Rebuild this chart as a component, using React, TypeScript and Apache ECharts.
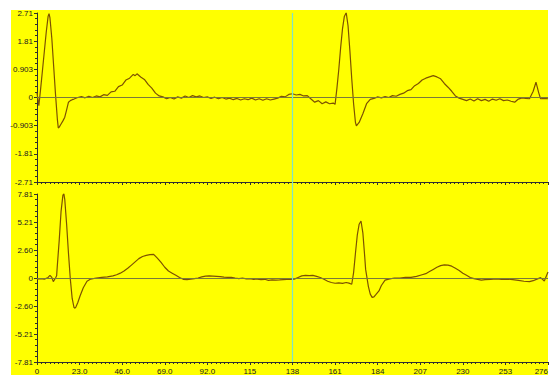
import React, { useEffect, useRef } from "react";
import * as echarts from "echarts";

// Lead 1 (top panel): [x, value]
const lead1: number[][] = [
  [0, 0.15], [1, -0.26], [2, 0.3], [3, 0.9], [4, 1.5], [5, 2.1], [6, 2.6], [6.5, 2.69], [7, 2.55],
  [8, 1.9], [9, 1.0], [10, 0.1], [11, -0.7], [11.5, -0.98], [12, -0.95], [13, -0.85], [14, -0.75],
  [15, -0.63], [16, -0.4], [17, -0.15], [18, -0.1], [19, -0.07], [20, -0.05], [22, 0.0], [24, 0.03],
  [26, -0.01], [28, 0.04], [30, 0.0], [32, 0.05], [34, 0.02], [36, 0.09], [38, 0.07], [40, 0.18],
  [42, 0.2], [44, 0.35], [46, 0.4], [48, 0.56], [50, 0.62], [52, 0.74], [53, 0.7], [54, 0.76],
  [56, 0.66], [58, 0.58], [60, 0.42], [62, 0.3], [64, 0.14], [66, 0.05], [68, 0.02], [70, -0.04],
  [72, 0.0], [74, -0.05], [76, 0.02], [78, -0.02], [80, 0.05], [82, 0.0], [84, 0.06], [86, 0.02],
  [88, 0.05], [90, 0.0], [92, 0.02], [94, -0.03], [96, 0.01], [98, -0.04], [100, 0.0], [102, -0.05],
  [104, -0.02], [106, -0.07], [108, -0.03], [110, -0.08], [112, -0.04], [114, -0.07], [116, -0.02],
  [118, -0.08], [120, -0.04], [122, -0.09], [124, -0.04], [126, -0.08], [128, -0.05], [130, -0.02],
  [132, 0.04], [134, 0.02], [136, 0.1], [138, 0.12], [140, 0.08], [142, 0.1], [144, 0.05], [146, 0.06],
  [148, -0.05], [150, -0.15], [152, -0.1], [154, -0.2], [156, -0.14], [158, -0.2], [160, -0.18],
  [161, -0.22], [162, 0.3], [163, 0.9], [164, 1.6], [165, 2.2], [166, 2.6], [167, 2.72], [168, 2.3],
  [169, 1.5], [170, 0.6], [171, -0.2], [172, -0.8], [172.5, -0.91], [174, -0.8], [176, -0.52],
  [178, -0.2], [180, -0.06], [182, -0.03], [184, 0.02], [186, -0.01], [188, 0.03], [190, 0.0],
  [192, 0.06], [194, 0.04], [196, 0.1], [198, 0.14], [200, 0.22], [202, 0.25], [204, 0.38], [206, 0.45],
  [208, 0.56], [210, 0.62], [212, 0.66], [214, 0.7], [216, 0.66], [218, 0.6], [220, 0.45], [222, 0.33],
  [224, 0.2], [226, 0.05], [228, -0.02], [230, -0.06], [232, -0.1], [234, -0.05], [236, -0.11],
  [238, -0.04], [240, -0.1], [242, -0.06], [244, -0.12], [246, -0.05], [248, -0.09], [250, -0.04],
  [252, -0.1], [254, -0.08], [256, -0.12], [258, -0.15], [260, -0.05], [262, -0.01], [264, -0.03],
  [266, -0.04], [268, 0.2], [269.5, 0.49], [271, 0.15], [272, -0.04], [274, -0.03], [276, -0.04],
];

// Lead 2 (bottom panel): [x, value]
const lead2: number[][] = [
  [0, -0.1], [2, -0.05], [4, -0.1], [6, 0.05], [7, 0.25], [8, 0.05], [8.8, -0.34], [10, 0.0],
  [10.6, 0.2], [11, 1.2], [12, 3.5], [13, 6.2], [14, 7.7], [14.5, 7.85], [15, 7.3], [16, 5.0],
  [17, 2.3], [18, -0.1], [19, -1.9], [20, -2.75], [20.5, -2.8], [21, -2.7], [22, -2.3], [23.3, -1.65],
  [25, -0.9], [27, -0.3], [29, -0.1], [32, 0.0], [35, 0.05], [38, 0.1], [41, 0.2], [43, 0.3],
  [45, 0.45], [47, 0.65], [49, 0.9], [51, 1.2], [53, 1.5], [55, 1.8], [57, 2.0], [59, 2.1],
  [61, 2.18], [63, 2.2], [65, 1.85], [67, 1.45], [69, 1.0], [71, 0.65], [73, 0.45], [75, 0.25],
  [77, 0.05], [79, -0.12], [81, -0.15], [83, -0.1], [85, -0.05], [87, 0.0], [89, 0.1], [91, 0.18],
  [93, 0.2], [95, 0.18], [97, 0.15], [99, 0.12], [101, 0.08], [103, 0.05], [105, 0.06], [107, 0.0],
  [109, -0.05], [111, 0.0], [113, -0.08], [115, -0.05], [117, -0.12], [119, -0.1], [121, -0.15],
  [123, -0.12], [125, -0.22], [127, -0.18], [129, -0.2], [131, -0.18], [133, -0.15], [135, -0.14],
  [137, -0.12], [139, -0.1], [141, 0.05], [143, 0.2], [145, 0.25], [147, 0.22], [149, 0.25],
  [151, 0.15], [153, 0.05], [155, -0.12], [157, -0.3], [159, -0.42], [161, -0.49], [163, -0.45],
  [165, -0.5], [167, -0.42], [168.5, -0.48], [170, -0.58], [171, 0.5], [172, 2.3], [173, 4.0],
  [174, 5.0], [175, 5.3], [176, 4.2], [177, 2.0], [177.5, 0.8], [179, -0.8], [180, -1.5], [181, -1.8],
  [182, -1.75], [183, -1.55], [184.7, -1.2], [186, -0.7], [188, -0.2], [190, -0.1], [193, 0.0],
  [196, 0.0], [199, 0.05], [202, 0.05], [205, 0.15], [208, 0.3], [210, 0.4], [212, 0.6], [214, 0.8],
  [216, 1.0], [218, 1.15], [220, 1.22], [222, 1.2], [224, 1.1], [226, 0.9], [228, 0.7], [230, 0.45],
  [232, 0.25], [234, 0.05], [236, -0.06], [238, -0.12], [240, -0.2], [242, -0.15], [245, -0.12],
  [248, -0.08], [251, -0.12], [254, -0.1], [257, -0.15], [260, -0.22], [263, -0.3], [266, -0.34],
  [268, -0.25], [270, -0.1], [272, 0.03], [274, -0.28], [276, 0.55],
];

const xTickLabels = ["0", "23.0", "46.0", "69.0", "92.0", "115", "138", "161", "184", "207", "230", "253", "276"];
const y1TickLabels = ["-2.71", "-1.81", "-0.903", "0", "0.903", "1.81", "2.71"];
const y2TickLabels = ["-7.81", "-5.21", "-2.60", "0", "2.60", "5.21", "7.81"];
const cursorX = 138;

const X_MAX = 276;
const X_STEP = 23;
const Y1_MAX = 2.71;
const Y2_MAX = 7.81;

export default function App() {
  const ref = useRef<HTMLDivElement>(null);
  useEffect(() => {
    if (!ref.current) return;
    const chart = echarts.init(ref.current, undefined, { renderer: "svg" });
    const axisColor = "#303030";
    const font = { fontFamily: "Liberation Sans, Arial, sans-serif", fontSize: 8, color: "#202020" };
    const iv1 = Y1_MAX / 3;
    const iv2 = Y2_MAX / 3;
    const mkY = (idx: number, iv: number, labels: string[]) => ({
      type: "value",
      gridIndex: idx,
      min: -3 * iv,
      max: 3 * iv,
      interval: iv,
      splitLine: { show: false },
      axisLine: { show: true, onZero: false, lineStyle: { color: axisColor, width: 1 } },
      axisTick: { show: true, length: 3, lineStyle: { color: axisColor } },
      minorTick: { show: true, splitNumber: 5, length: 2, lineStyle: { color: axisColor } },
      axisLabel: {
        ...font,
        margin: 4,
        showMinLabel: true,
        showMaxLabel: true,
        formatter: (v: number) => labels[Math.round(v / iv) + 3] ?? "",
      },
    });
    const mkX = (idx: number, showLabels: boolean) => ({
      type: "value",
      gridIndex: idx,
      min: 0,
      max: X_MAX,
      interval: X_STEP,
      splitLine: { show: false },
      axisLine: { show: true, onZero: false, lineStyle: { color: axisColor, width: 1 } },
      axisTick: { show: true, length: 3, lineStyle: { color: axisColor } },
      minorTick: { show: true, splitNumber: 10, length: 2, lineStyle: { color: axisColor } },
      axisLabel: {
        show: showLabels,
        ...font,
        margin: 5,
        showMinLabel: true,
        showMaxLabel: true,
        alignMaxLabel: "right",
        formatter: (v: number) => xTickLabels[Math.round(v / X_STEP)] ?? "",
      },
    });
    const zeroLine = () => ({
      silent: true,
      symbol: ["none", "none"],
      label: { show: false },
      lineStyle: { color: "#7a7a3a", width: 1, type: "solid" },
      data: [{ yAxis: 0 }],
    });
    const lineColor = "#7d5200";
    const bg = { type: "rect", id: "bg", z: -10, shape: { x: 11, y: 10, width: 537, height: 365 }, style: { fill: "#ffff00" } };
    chart.setOption({
      animation: false,
      backgroundColor: "transparent",
      graphic: [bg],
      grid: [
        { left: 37, top: 13, width: 511, height: 169, containLabel: false, outerBoundsMode: "none" },
        { left: 37, top: 194, width: 511, height: 168, containLabel: false, outerBoundsMode: "none" },
      ],
      xAxis: [mkX(0, false), mkX(1, true)],
      yAxis: [mkY(0, iv1, y1TickLabels), mkY(1, iv2, y2TickLabels)],
      series: [
        {
          type: "line",
          xAxisIndex: 0,
          yAxisIndex: 0,
          data: lead1,
          showSymbol: false,
          lineStyle: { color: lineColor, width: 1.2 },
          markLine: zeroLine(),
        },
        {
          type: "line",
          xAxisIndex: 1,
          yAxisIndex: 1,
          data: lead2,
          showSymbol: false,
          lineStyle: { color: lineColor, width: 1.2 },
          markLine: zeroLine(),
        },
      ],
    });
    const pTop = chart.convertToPixel({ xAxisIndex: 0, yAxisIndex: 0 }, [cursorX, 3 * iv1]) as number[];
    const pBot = chart.convertToPixel({ xAxisIndex: 1, yAxisIndex: 1 }, [cursorX, -3 * iv2]) as number[];
    chart.setOption({
      graphic: [
        bg,
        {
          type: "line",
          id: "cursor",
          z: 50,
          shape: { x1: pTop[0], y1: pTop[1], x2: pBot[0], y2: pBot[1] },
          style: { stroke: "#7fe3c8", lineWidth: 1.2 },
        },
      ],
    });
    return () => chart.dispose();
  }, []);
  return (
    <div style={{ position: "fixed", left: 0, top: 0, width: 550, height: 375, background: "#fff" }}>
      <div ref={ref} style={{ width: 550, height: 375 }} />
    </div>
  );
}
